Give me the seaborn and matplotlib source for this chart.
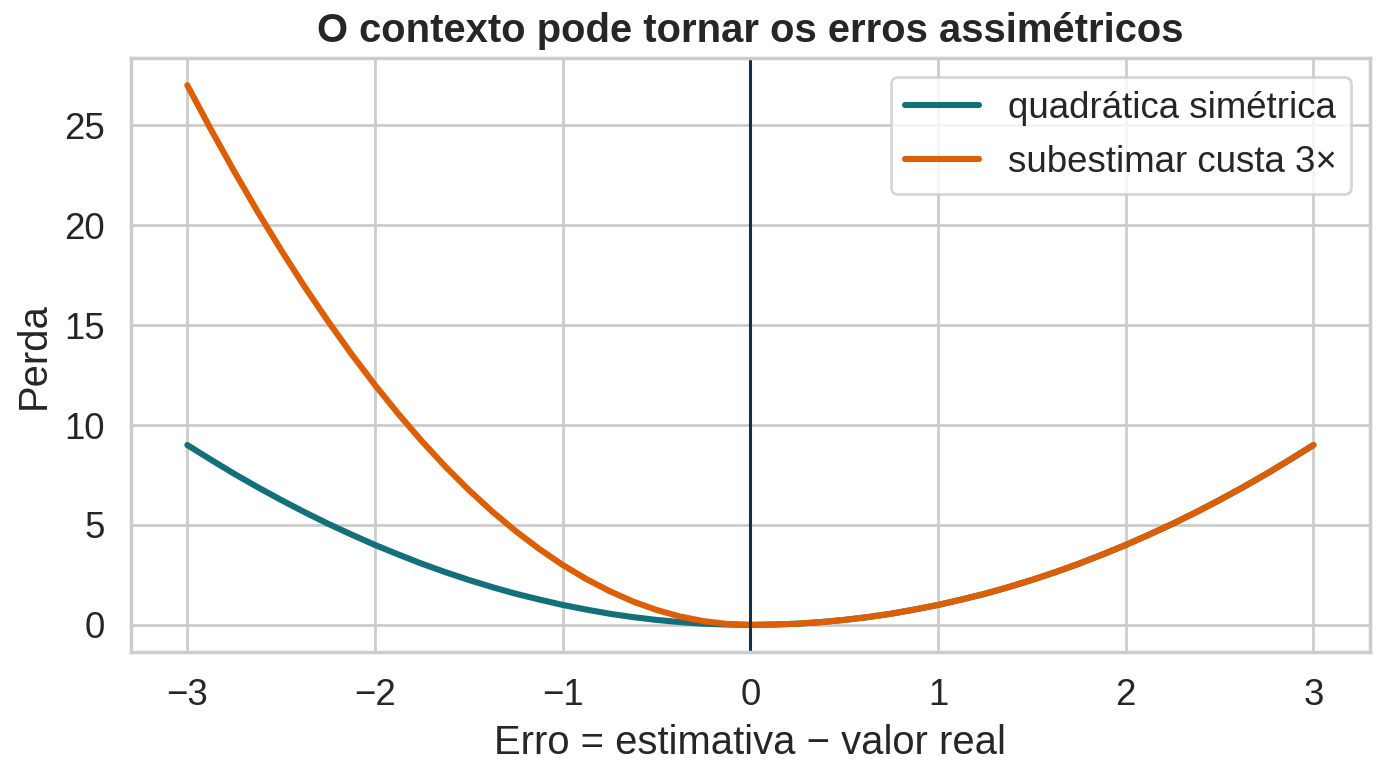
import numpy as np
import pandas as pd
import seaborn as sns
import matplotlib.pyplot as plt

# values
erro = [-3, -2.875, -2.75, -2.625, -2.5, -2.375, -2.25, -2.125, -2, -1.875, -1.75, -1.625,
        -1.5, -1.375, -1.25, -1.125, -1, -0.875, -0.75, -0.625, -0.5, -0.375, -0.25, -0.125, 0,
        0.125, 0.25, 0.375, 0.5, 0.625, 0.75, 0.875, 1, 1.125, 1.25, 1.375, 1.5, 1.625,
        1.75, 1.875, 2, 2.125, 2.25, 2.375, 2.5, 2.625, 2.75, 2.875, 3]
lado_positivo = [0.02, 0.06, 0.14, 0.25, 0.39, 0.56, 0.77, 1, 1.27, 1.56, 1.89, 2.25,
                 2.64, 3.06, 3.52, 4, 4.52, 5.06, 5.64, 6.25, 6.89, 7.56, 8.27, 9]
perda_simetrica = [9, 8.27, 7.56, 6.89, 6.25, 5.64, 5.06, 4.52, 4, 3.52, 3.06, 2.64,
                   2.25, 1.89, 1.56, 1.27, 1, 0.77, 0.56, 0.39, 0.25, 0.14, 0.06, 0.02, 0] + lado_positivo
perda_assimetrica = [27, 24.8, 22.69, 20.67, 18.75, 16.92, 15.19, 13.55, 12, 10.55, 9.19, 7.92,
                     6.75, 5.67, 4.69, 3.8, 3, 2.3, 1.69, 1.17, 0.75, 0.42, 0.19, 0.05, 0] + lado_positivo
series_names = ["quadrática simétrica", "subestimar custa 3×"]

sns.set_theme(style="whitegrid", context="notebook", font_scale=1.2)
plt.rcParams['font.family'] = ['Liberation Sans', 'DejaVu Sans']
plt.rcParams['axes.edgecolor'] = '#cccccc'
plt.rcParams['axes.linewidth'] = 1.25

df = pd.DataFrame({
    "erro": erro * 2,
    "perda": perda_simetrica + perda_assimetrica,
    "curva": [series_names[0]] * len(erro) + [series_names[1]] * len(erro),
})

fig, ax = plt.subplots(figsize=(6.925, 3.885), dpi=200)
sns.lineplot(data=df, x="erro", y="perda", hue="curva",
             palette=["#13707b", "#dc5f05"], linewidth=2.2,
             solid_capstyle="round", ax=ax)
ax.axvline(0, color="#14304d", linewidth=1.1)

ax.set_title("O contexto pode tornar os erros assimétricos", fontweight="bold", pad=6)
ax.set_xlabel("Erro = estimativa \u2212 valor real")
ax.set_ylabel("Perda")
leg = ax.legend(loc="upper right")
leg.set_title(None)
for line in leg.get_lines():
    line.set_solid_capstyle("round")

fig.subplots_adjust(left=0.0946, right=0.989, top=0.925, bottom=0.161)
plt.savefig("out.png", dpi=200)
